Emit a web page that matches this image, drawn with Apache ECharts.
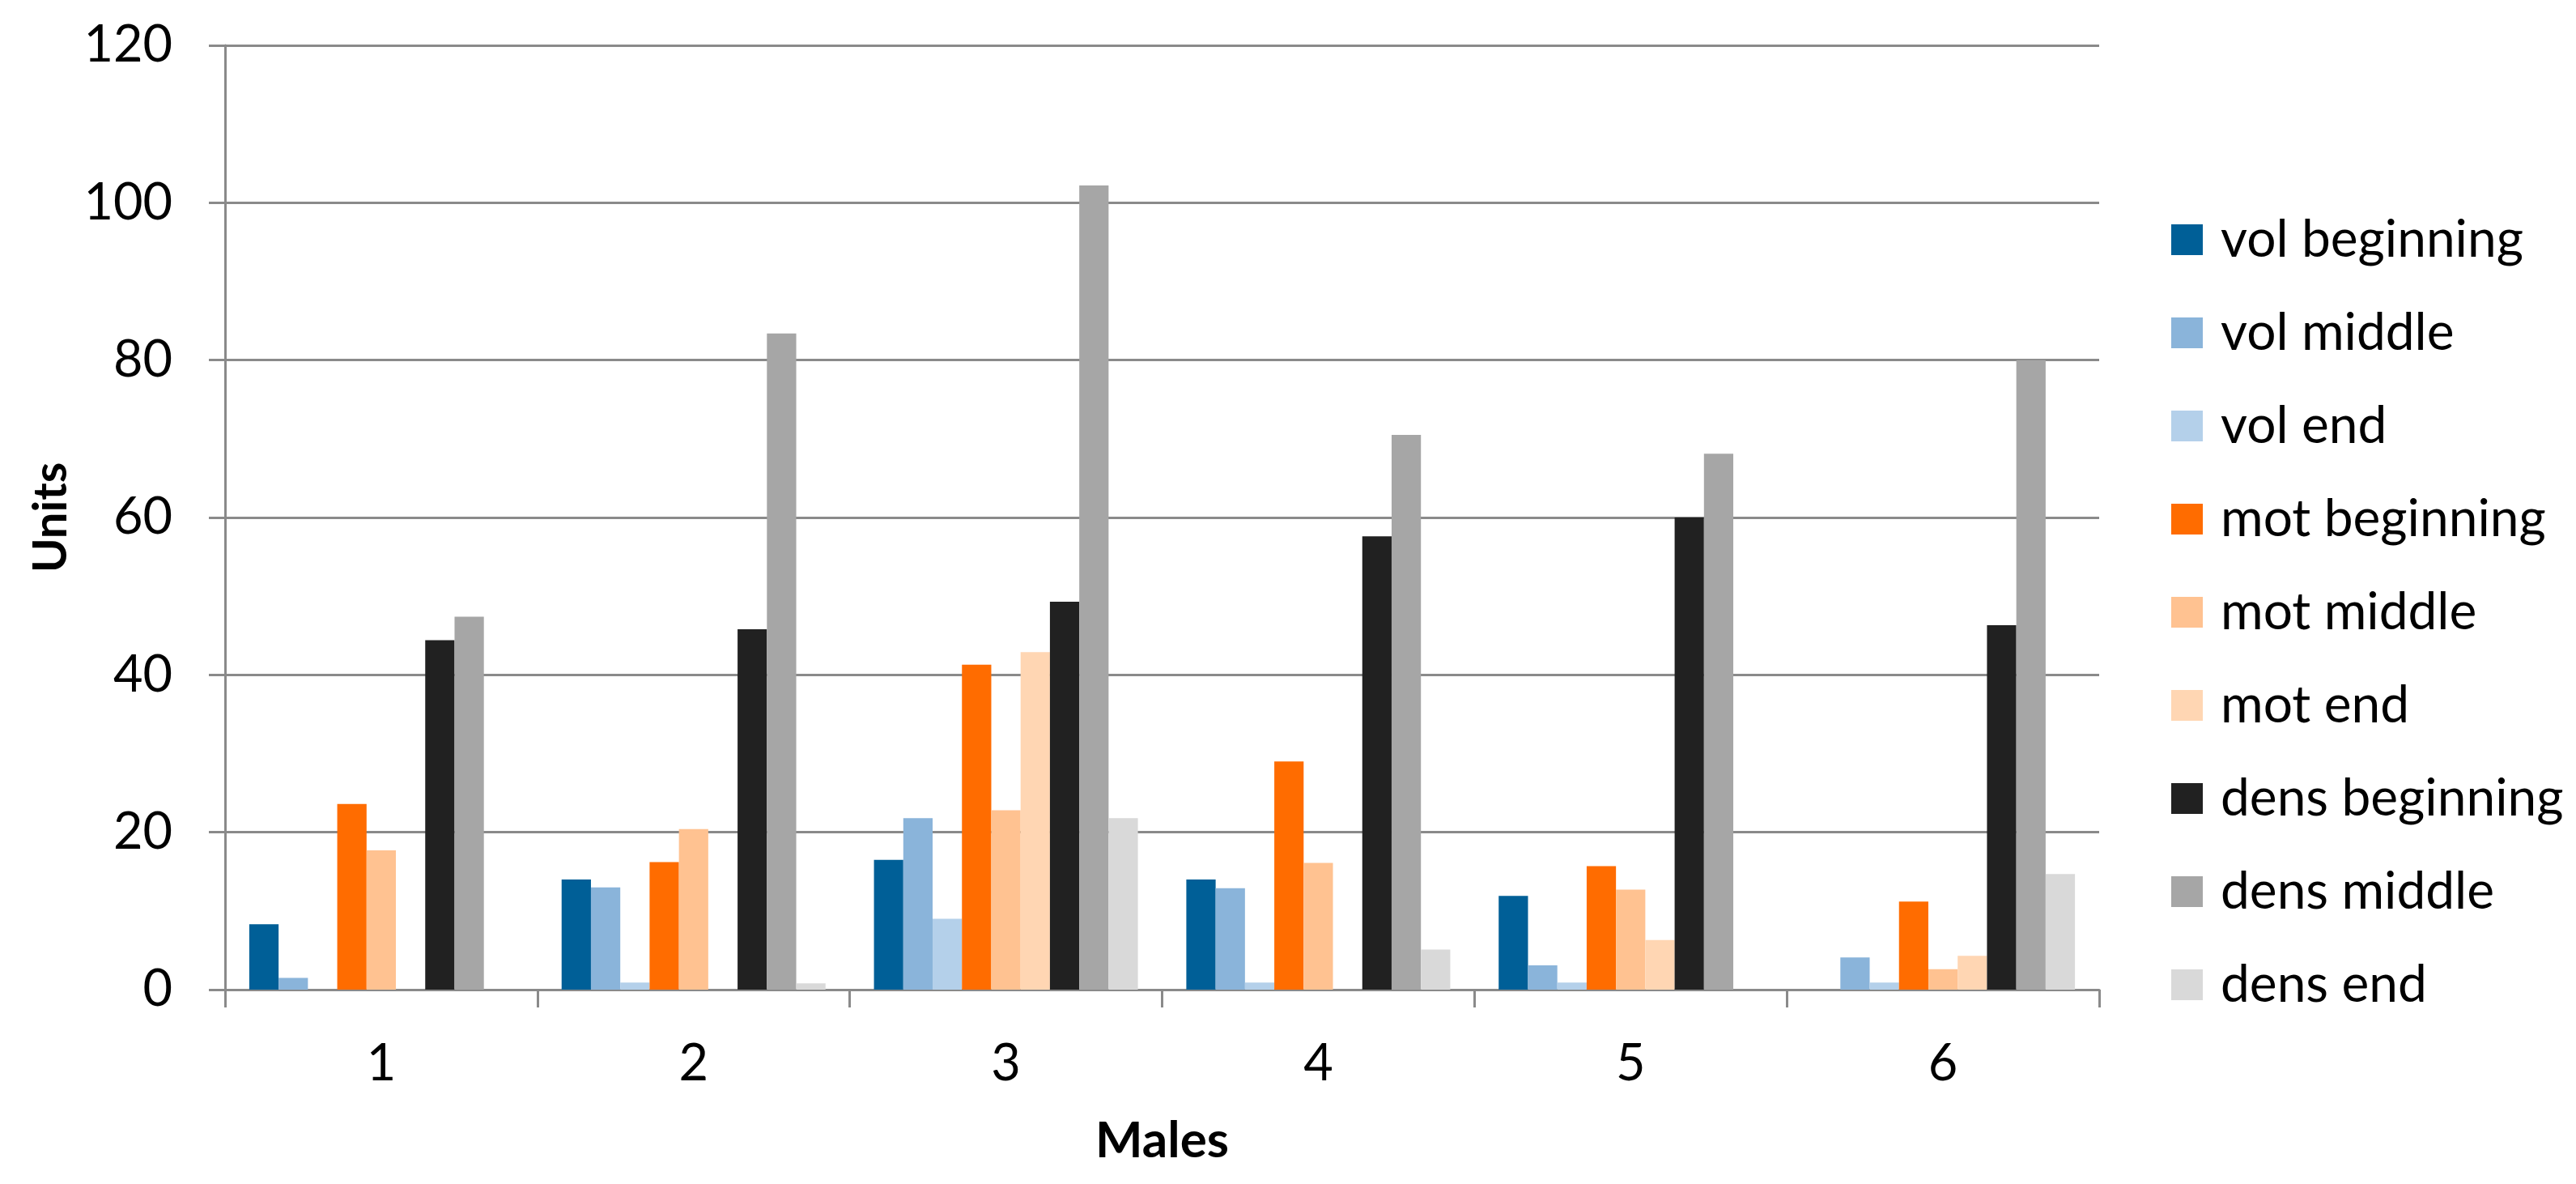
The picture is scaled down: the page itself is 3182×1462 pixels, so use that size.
<!DOCTYPE html>
<html>
<head>
<meta charset="utf-8">
<script src="https://cdn.jsdelivr.net/npm/echarts@6/dist/echarts.min.js"></script>
<style>
html,body{margin:0;padding:0;background:#fff;}
#c{width:3182px;height:1462px;}
</style>
</head>
<body>
<div id="c"></div>
<script>
const categories = ['1', '2', '3', '4', '5', '6'];
const seriesNames = ['vol beginning', 'vol middle', 'vol end', 'mot beginning', 'mot middle', 'mot end', 'dens beginning', 'dens middle', 'dens end'];
const volBeginning  = [8.3, 14.0, 16.5, 14.0, 11.9, 0];
const volMiddle     = [1.5, 13.0, 21.8, 12.9, 3.1, 4.1];
const volEnd        = [0, 0.9, 9.0, 0.9, 0.9, 0.9];
const motBeginning  = [23.6, 16.2, 41.3, 29.0, 15.7, 11.2];
const motMiddle     = [17.7, 20.4, 22.8, 16.1, 12.7, 2.6];
const motEnd        = [0, 0, 42.9, 0, 6.3, 4.3];
const densBeginning = [44.4, 45.8, 49.3, 57.6, 60.0, 46.3];
const densMiddle    = [47.4, 83.4, 102.2, 70.5, 68.1, 80.0];
const densEnd       = [0, 0.8, 21.8, 5.1, 0, 14.7];
const yTicks = [0, 20, 40, 60, 80, 100, 120];
const colors = ['#005F97', '#8AB4DA', '#B4D0EA', '#FF6C00', '#FFC291', '#FFD6B3', '#212121', '#A6A6A6', '#D9D9D9'];

const allData = [volBeginning, volMiddle, volEnd, motBeginning, motMiddle, motEnd, densBeginning, densMiddle, densEnd];
const FONT = 'Lato';

const chart = echarts.init(document.getElementById('c'), null, {renderer: 'canvas'});
chart.setOption({
  backgroundColor: '#fff',
  animation: false,
  textStyle: {fontFamily: FONT},
  grid: {left: 278, right: 589, top: 56, bottom: 240, containLabel: false},
  legend: {
    orient: 'vertical',
    left: 2677,
    top: 256,
    itemWidth: 39,
    itemHeight: 38,
    itemGap: 45,
    icon: 'rect',
    data: seriesNames,
    textStyle: {fontFamily: FONT, fontSize: 64, color: '#000', padding: [0, 0, 0, 17], lineHeight: 70}
  },
  xAxis: {
    type: 'category',
    data: categories,
    name: 'Males',
    nameLocation: 'middle',
    nameGap: 156,
    nameTextStyle: {fontFamily: FONT, fontSize: 62, fontWeight: 'bold', color: '#000'},
    axisLine: {show: true, lineStyle: {color: '#8A8A8A', width: 3}},
    axisTick: {show: true, length: 22, lineStyle: {color: '#8A8A8A', width: 3}},
    axisLabel: {fontFamily: FONT, fontSize: 63, color: '#000', margin: 60}
  },
  yAxis: {
    type: 'value',
    min: 0,
    max: 120,
    interval: 20,
    name: 'Units',
    nameLocation: 'middle',
    nameGap: 186,
    nameRotate: 90,
    nameTextStyle: {fontFamily: FONT, fontSize: 58, fontWeight: 'bold', color: '#000'},
    axisLine: {show: true, lineStyle: {color: '#8A8A8A', width: 3}},
    axisTick: {show: true, length: 20, lineStyle: {color: '#8A8A8A', width: 3}},
    axisLabel: {fontFamily: FONT, fontSize: 63, color: '#000', margin: 65,
      formatter: v => yTicks.includes(v) ? String(v) : ''},
    splitLine: {show: true, lineStyle: {color: '#8A8A8A', width: 3}}
  },
  series: seriesNames.map((n, i) => ({
    name: n,
    type: 'bar',
    data: allData[i],
    barGap: '0%',
    barCategoryGap: '15.5%',
    itemStyle: {color: colors[i]}
  }))
});
</script>
</body>
</html>
